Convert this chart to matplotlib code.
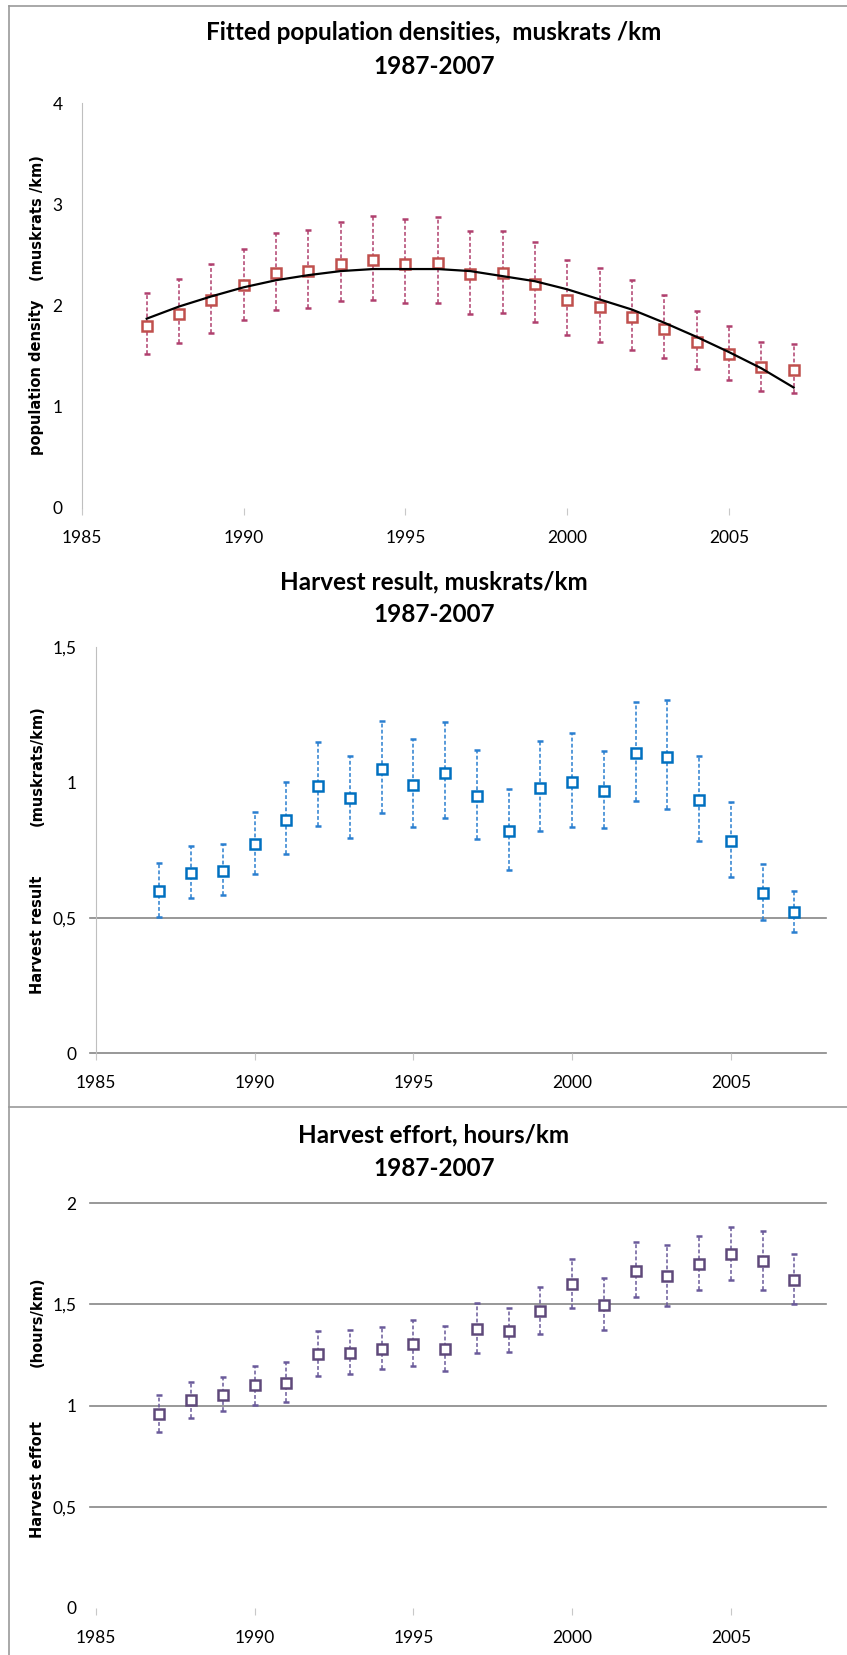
import matplotlib.pyplot as plt
from matplotlib.lines import Line2D
import numpy as np

plt.rcParams['font.family'] = ['Lato', 'DejaVu Sans']

years = list(range(1987, 2008))

# population density (muskrats/km), 1987-2007
dens = [1.80, 1.92, 2.05, 2.20, 2.32, 2.34, 2.41, 2.45, 2.41, 2.42, 2.31,
        2.32, 2.21, 2.05, 1.99, 1.89, 1.77, 1.64, 1.52, 1.39, 1.36]
dens_hi = [2.12, 2.26, 2.41, 2.56, 2.72, 2.75, 2.82, 2.88, 2.85, 2.87, 2.74,
           2.74, 2.63, 2.45, 2.37, 2.25, 2.10, 1.95, 1.80, 1.64, 1.62]
dens_lo = [1.52, 1.63, 1.73, 1.86, 1.96, 1.98, 2.04, 2.05, 2.02, 2.02, 1.92,
           1.93, 1.84, 1.71, 1.64, 1.56, 1.48, 1.37, 1.26, 1.16, 1.14]
# fitted trend
dens_fit = [1.87, 1.99, 2.09, 2.18, 2.25, 2.30, 2.34, 2.36, 2.36, 2.36, 2.34,
            2.29, 2.24, 2.16, 2.06, 1.96, 1.83, 1.69, 1.54, 1.38, 1.19]

# harvest result (muskrats/km)
harv = [0.600, 0.666, 0.673, 0.772, 0.861, 0.988, 0.941, 1.048, 0.989, 1.036, 0.948,
        0.819, 0.978, 1.000, 0.968, 1.108, 1.095, 0.933, 0.784, 0.590, 0.520]
harv_hi = [0.701, 0.765, 0.771, 0.889, 1.000, 1.148, 1.098, 1.226, 1.160, 1.222, 1.118,
           0.974, 1.151, 1.181, 1.115, 1.297, 1.304, 1.096, 0.926, 0.697, 0.598]
harv_lo = [0.504, 0.572, 0.583, 0.661, 0.735, 0.839, 0.795, 0.888, 0.834, 0.867, 0.789,
           0.676, 0.819, 0.834, 0.830, 0.931, 0.900, 0.783, 0.650, 0.491, 0.446]

# harvest effort (hours/km)
eff = [0.958, 1.025, 1.053, 1.100, 1.113, 1.254, 1.261, 1.281, 1.304, 1.277, 1.378,
       1.366, 1.467, 1.602, 1.498, 1.664, 1.638, 1.697, 1.750, 1.712, 1.620]
eff_hi = [1.053, 1.114, 1.142, 1.197, 1.213, 1.369, 1.374, 1.389, 1.424, 1.391, 1.508,
          1.480, 1.587, 1.725, 1.628, 1.806, 1.791, 1.835, 1.883, 1.863, 1.750]
eff_lo = [0.867, 0.940, 0.973, 1.002, 1.019, 1.144, 1.156, 1.180, 1.193, 1.169, 1.259,
          1.263, 1.352, 1.481, 1.371, 1.536, 1.491, 1.569, 1.620, 1.569, 1.500]

xticks = [1985, 1990, 1995, 2000, 2005]

W, H = 847, 1655
fig = plt.figure(figsize=(W / 100, H / 100), dpi=100)


def fx(px):
    return px / W


def fy(py):
    return 1 - py / H


def make_axes(left_px, right_px, top_px, bottom_px):
    return fig.add_axes([fx(left_px), fy(bottom_px),
                         fx(right_px - left_px), (bottom_px - top_px) / H])


def draw_series(ax, vals, lo, hi, color, ecolor):
    v = np.array(vals)
    yerr = [v - np.array(lo), np.array(hi) - v]
    _, caps, bars = ax.errorbar(years, vals, yerr=yerr, fmt='s', ms=7, mfc='white',
                                mec=color, mew=1.8, ecolor=ecolor, elinewidth=1.1,
                                capsize=2, capthick=1.1, zorder=3)
    bars[0].set_linestyle((0, (2.5, 1.5)))


def style_axes(ax, ymax, yticks, ylabels):
    ax.set_xlim(1985, 2008)
    ax.set_ylim(0, ymax)
    ax.set_xticks(xticks)
    ax.set_xticklabels([str(t) for t in xticks], fontsize=12.5)
    ax.set_yticks(yticks)
    ax.set_yticklabels(ylabels, fontsize=12.5)
    ax.tick_params(axis='y', length=0, pad=14)
    ax.tick_params(axis='x', length=5, color='#C8C8C8', pad=11)
    for s in ax.spines.values():
        s.set_visible(False)


def titles(y1, y2, t1):
    fig.text(fx(434), fy(y1), t1, ha='center', va='center', fontsize=17.5, fontweight='bold')
    fig.text(fx(434), fy(y2), '1987-2007', ha='center', va='center', fontsize=17.5, fontweight='bold')


def ylabel(parts):
    for txt, ypx in parts:
        fig.text(fx(37), fy(ypx), txt, rotation=90, ha='center', va='center',
                 fontsize=10.5, fontweight='bold', family='DejaVu Sans')


# ---- panel 1: fitted population densities
ax1 = make_axes(82, 826, 103, 508)
style_axes(ax1, 4, [0, 1, 2, 3, 4], ['0', '1', '2', '3', '4'])
ax1.spines['left'].set_visible(True)
ax1.spines['left'].set_color('#BFBFBF')
ax1.plot(years, dens_fit, color='black', lw=1.6, zorder=4)
draw_series(ax1, dens, dens_lo, dens_hi, '#C0504D', '#B0406E')
titles(33, 67, 'Fitted population densities,  muskrats /km')
ylabel([('population density', 377), ('(muskrats /km)', 218)])

# ---- panel 2: harvest result
ax2 = make_axes(96, 826, 647, 1053)
style_axes(ax2, 1.5, [0, 0.5, 1, 1.5], ['0', '0,5', '1', '1,5'])
ax2.spines['left'].set_visible(True)
ax2.spines['left'].set_color('#BFBFBF')
for g in [0, 0.5]:
    ax2.axhline(g, xmin=-0.008, color='#868686', lw=1.2, clip_on=False, zorder=1)
draw_series(ax2, harv, harv_lo, harv_hi, '#0070C0', '#2A7FD0')
titles(582, 615, 'Harvest result, muskrats/km')
ylabel([('Harvest result', 935), ('(muskrats/km)', 766)])

# ---- panel 3: harvest effort
ax3 = make_axes(96, 826, 1203, 1608)
style_axes(ax3, 2, [0, 0.5, 1, 1.5, 2], ['0', '0,5', '1', '1,5', '2'])
for g in [0.5, 1, 1.5, 2]:
    ax3.axhline(g, xmin=-0.008, color='#868686', lw=1.2, clip_on=False, zorder=1)
draw_series(ax3, eff, eff_lo, eff_hi, '#5F497A', '#6A5A9A')
titles(1135, 1168, 'Harvest effort, hours/km')
ylabel([('Harvest effort', 1480), ('(hours/km)', 1322)])

# chart frames
frame = '#9A9A9A'
fig.add_artist(Line2D([fx(9), 1], [fy(6), fy(6)], color=frame, lw=1.2))
fig.add_artist(Line2D([fx(9), fx(9)], [fy(6), 0], color=frame, lw=1.2))
fig.add_artist(Line2D([fx(9), 1], [fy(1107), fy(1107)], color=frame, lw=1.2))

fig.savefig('out.png', dpi=100)
